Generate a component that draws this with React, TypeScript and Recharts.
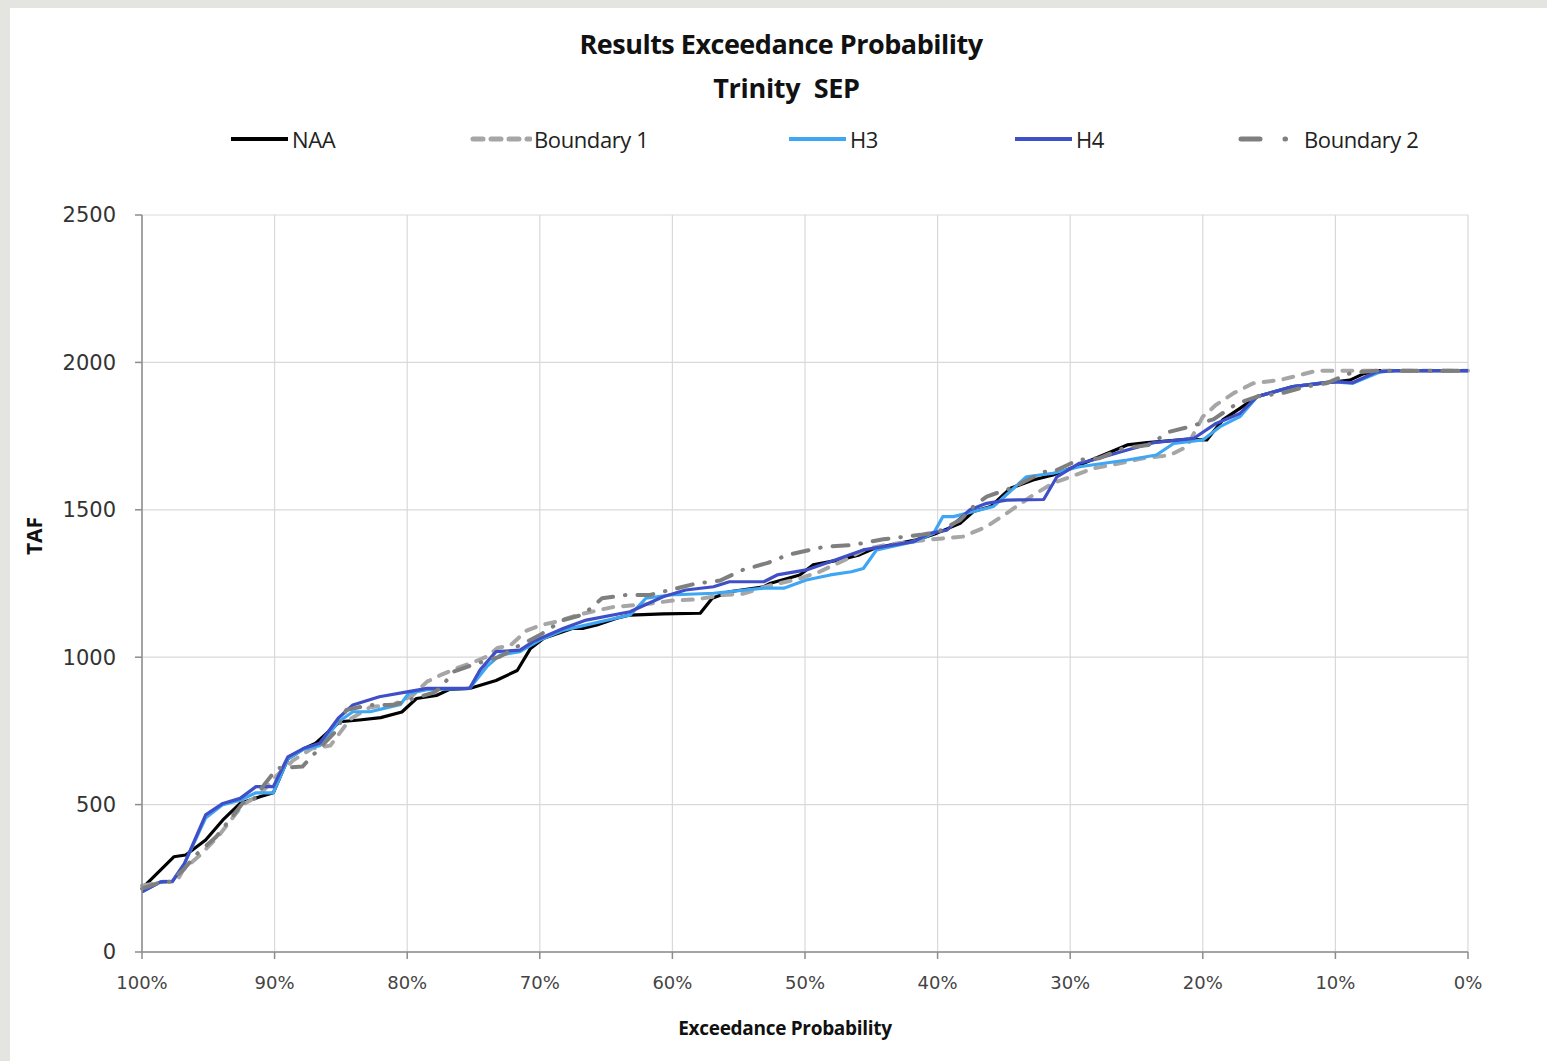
import React from "react";
import { LineChart, Line, XAxis, YAxis, CartesianGrid } from "recharts";

// [exceedance %, TAF]
const NAA: [number, number][] = [
  [100, 216], [97.6, 323], [96.7, 329], [95.2, 380], [93.9, 448], [92.6, 504], [91.1, 527], [90.1, 540],
  [89.0, 655], [87.8, 690], [86.9, 708], [85.1, 781], [83.6, 787], [82.0, 795], [80.4, 814], [79.3, 860],
  [77.8, 870], [76.8, 891], [75.3, 894], [73.3, 921], [71.7, 955], [70.7, 1030], [69.7, 1064], [67.5, 1098],
  [66.7, 1098], [65.7, 1109], [64.2, 1132], [63.2, 1143], [60.7, 1147], [57.9, 1149], [57.0, 1200],
  [55.7, 1222], [53.1, 1239], [52.6, 1251], [50.4, 1279], [49.4, 1313], [47.4, 1330], [45.9, 1347],
  [44.8, 1369], [41.6, 1398], [40.1, 1420], [38.3, 1454], [37.3, 1494], [36.0, 1511], [34.5, 1573],
  [32.8, 1601], [31.3, 1618], [29.3, 1652], [25.7, 1720], [24.2, 1728], [21.2, 1739], [19.7, 1737],
  [18.5, 1805], [17.2, 1844], [15.9, 1884], [13.2, 1918], [9.9, 1935], [8.9, 1940], [7.9, 1961],
  [6.9, 1972], [0, 1972],
];

const BOUNDARY1: [number, number][] = [
  [100, 225], [98.4, 238], [97.4, 238], [96.9, 278], [95.6, 330], [94.2, 395], [92.4, 500], [91.2, 530],
  [89.8, 600], [88.6, 650], [87.2, 690], [85.8, 700], [84.3, 790], [82.8, 830], [81.0, 840], [79.6, 870],
  [78.5, 917], [77.5, 939], [76.3, 962], [74.9, 985], [74.0, 1002], [73.2, 1031], [72.2, 1041],
  [71.0, 1090], [69.9, 1109], [68.8, 1120], [67.0, 1145], [64.5, 1170], [62.0, 1180], [60.0, 1192],
  [58.2, 1196], [56.2, 1211], [54.7, 1215], [52.5, 1245], [50.5, 1265], [48.9, 1290], [47.0, 1330],
  [45.5, 1365], [44.0, 1380], [42.0, 1392], [40.8, 1398], [39.6, 1403], [38.1, 1409], [36.3, 1443],
  [34.8, 1488], [32.8, 1550], [31.3, 1590], [29.8, 1615], [28.3, 1640], [26.0, 1660], [24.5, 1675],
  [22.5, 1685], [21.2, 1714], [20.0, 1816], [19.0, 1856], [17.7, 1895], [16.2, 1929], [14.2, 1940],
  [12.7, 1957], [11.4, 1972], [0, 1972],
];

const H3: [number, number][] = [
  [100, 204], [98.6, 238], [97.7, 240], [96.8, 300], [95.2, 455], [93.9, 500], [92.6, 515], [91.4, 540],
  [90.1, 540], [89.0, 655], [87.8, 688], [86.6, 700], [85.2, 780], [84.1, 815], [82.8, 815], [80.5, 840],
  [79.9, 877], [78.5, 890], [75.3, 894], [74.0, 968], [73.0, 1007], [71.5, 1019], [70.0, 1058],
  [68.2, 1092], [63.2, 1143], [62.0, 1200], [60.2, 1211], [56.9, 1217], [53.1, 1234], [51.6, 1234],
  [49.9, 1262], [48.1, 1279], [46.5, 1290], [45.6, 1301], [44.6, 1364], [41.8, 1392], [40.3, 1420],
  [39.6, 1477], [38.8, 1477], [35.8, 1511], [33.3, 1612], [31.3, 1624], [29.3, 1646], [25.7, 1669],
  [23.5, 1686], [22.2, 1725], [20.0, 1737], [18.7, 1782], [17.2, 1816], [15.9, 1884], [13.2, 1918],
  [10.2, 1935], [8.7, 1929], [6.6, 1968], [5.5, 1972], [0, 1972],
];

const H4: [number, number][] = [
  [100, 204], [98.6, 238], [97.7, 240], [96.8, 300], [95.2, 465], [93.9, 504], [92.6, 521], [91.4, 561],
  [90.1, 561], [89.0, 662], [87.8, 691], [86.6, 708], [85.2, 793], [84.1, 838], [82.1, 866], [79.9, 883],
  [78.5, 894], [75.3, 894], [74.5, 957], [73.3, 1019], [71.5, 1024], [70.5, 1053], [68.2, 1098],
  [66.5, 1126], [63.2, 1154], [60.7, 1205], [59.0, 1228], [56.9, 1239], [55.7, 1256], [53.1, 1256],
  [52.1, 1279], [49.9, 1296], [48.1, 1324], [45.6, 1364], [41.8, 1392], [40.6, 1420], [39.3, 1431],
  [37.6, 1499], [36.3, 1522], [34.8, 1533], [32.0, 1535], [31.0, 1612], [29.3, 1658], [28.3, 1669],
  [25.7, 1703], [23.7, 1728], [20.7, 1742], [19.0, 1793], [17.2, 1827], [15.9, 1884], [13.2, 1918],
  [10.2, 1935], [8.7, 1931], [6.9, 1968], [5.5, 1972], [0, 1972],
];

const BOUNDARY2: [number, number][] = [
  [100, 215], [98.5, 238], [97.9, 238], [96.9, 278], [95.8, 335], [94.4, 391], [93.4, 448], [92.4, 505],
  [91.6, 515], [90.9, 561], [89.8, 624], [87.9, 629], [86.6, 692], [85.3, 753], [84.6, 821], [82.8, 838],
  [81.0, 838], [79.5, 860], [78.0, 880], [77.5, 895], [76.5, 951], [75.0, 975], [73.0, 1002],
  [71.7, 1036], [70.0, 1075], [68.3, 1125], [66.7, 1145], [65.3, 1200], [63.5, 1211], [61.7, 1211],
  [58.2, 1250], [56.4, 1260], [54.7, 1296], [52.8, 1320], [51.3, 1347], [49.4, 1366], [48.5, 1375],
  [46.5, 1380], [44.1, 1400], [41.3, 1415], [40.0, 1425], [38.3, 1465], [37.3, 1511], [36.3, 1545],
  [34.3, 1576], [32.0, 1629], [31.3, 1629], [29.4, 1669], [27.8, 1675], [26.0, 1709], [24.1, 1720],
  [22.5, 1765], [21.0, 1782], [19.2, 1807], [17.4, 1861], [15.9, 1884], [14.1, 1895], [12.2, 1918],
  [10.7, 1929], [8.9, 1963], [7.0, 1972], [0, 1972],
];

const xTicks = [0, 10, 20, 30, 40, 50, 60, 70, 80, 90, 100];
const yTicks = [0, 500, 1000, 1500, 2000, 2500];

const toRows = (pts: [number, number][]) => pts.map(([p, v]) => ({ p, v }));

const series = [
  { name: "NAA", data: NAA, color: "#000000", width: 3.2, dash: undefined as string | undefined, legendX: 228 },
  { name: "Boundary 1", data: BOUNDARY1, color: "#a6a6a6", width: 4, dash: "10 10", legendX: 470 },
  { name: "H3", data: H3, color: "#3ea6f2", width: 3.2, dash: undefined, legendX: 786 },
  { name: "H4", data: H4, color: "#3f4fc8", width: 3.2, dash: undefined, legendX: 1012 },
  { name: "Boundary 2", data: BOUNDARY2, color: "#7f7f7f", width: 4, dash: "16 12 0.5 12", legendX: 1238 },
];

const font = "'Open Sans', 'Noto Sans', sans-serif";

const App: React.FC = () => {
  return (
    <div style={{ position: "absolute", left: 0, top: 0, width: 1547, height: 1061, background: "#e4e4e1" }}>
      <div style={{ position: "absolute", left: 10, top: 8, width: 1537, height: 1053, background: "#fff" }} />

      <div style={{ position: "absolute", left: 0, width: 1562, top: 26, textAlign: "center", fontFamily: font, fontWeight: 700, fontSize: 27, lineHeight: "36px", color: "#111", letterSpacing: -0.5 }}>
        Results Exceedance Probability
      </div>
      <div style={{ position: "absolute", left: 0, width: 1573, top: 70, textAlign: "center", fontFamily: font, fontWeight: 700, fontSize: 27, lineHeight: "36px", color: "#111", whiteSpace: "pre", letterSpacing: -0.3 }}>
        {"Trinity  SEP"}
      </div>

      {series.map((s) => (
        <div key={s.name} style={{ position: "absolute", left: s.legendX, top: 124, height: 30, display: "flex", alignItems: "center", fontFamily: font, fontSize: 22, color: "#222" }}>
          <svg width={62} height={10} style={{ marginRight: s.name === "Boundary 2" ? 4 : 2 }}>
            <line x1={3} y1={5} x2={60} y2={5} stroke={s.color} strokeWidth={s.dash ? 5 : 4}
              strokeDasharray={s.dash ? (s.name === "Boundary 2" ? "19 25 0.5 40" : "10 8") : undefined}
              strokeLinecap={s.dash ? "round" : "butt"} />
          </svg>
          <span style={{ letterSpacing: -0.4 }}>{s.name}</span>
        </div>
      ))}

      <div style={{ position: "absolute", left: 12, top: 536, transform: "translate(0, -50%) rotate(-90deg)", transformOrigin: "center", fontFamily: font, fontWeight: 700, fontSize: 21, color: "#111", width: 44, textAlign: "center" }}>
        TAF
      </div>

      <div style={{ position: "absolute", left: 0, top: 0 }}>
        <LineChart width={1547} height={1061} margin={{ top: 215, right: 79, bottom: 49, left: 0 }}>
          <CartesianGrid stroke="#d9d9d9" strokeWidth={1.2} />
          <XAxis
            dataKey="p"
            type="number"
            domain={[0, 100]}
            reversed
            ticks={xTicks}
            interval={0}
            allowDuplicatedCategory={false}
            height={60}
            tickFormatter={(v) => `${v}%`}
            stroke="#8c8c8c"
            strokeWidth={1.5}
            tickSize={7}
            tickMargin={17}
            tick={{ fontFamily: "'DejaVu Sans', sans-serif", fontSize: 18, fill: "#444" }}
            label={{ value: "Exceedance Probability", position: "insideBottom", offset: -23, dx: -20, style: { fontFamily: font, fontWeight: 700, fontSize: 19, fill: "#111", letterSpacing: -0.3 } }}
          />
          <YAxis
            type="number"
            domain={[0, 2500]}
            ticks={yTicks}
            interval={0}
            width={142}
            stroke="#8c8c8c"
            strokeWidth={1.5}
            tickSize={7}
            tickMargin={19}
            tick={{ fontFamily: "'DejaVu Sans', sans-serif", fontSize: 21, fill: "#333" }}
          />
          {series.map((s) => (
            <Line
              key={s.name}
              name={s.name}
              data={toRows(s.data)}
              dataKey="v"
              type="linear"
              stroke={s.color}
              strokeWidth={s.width}
              strokeDasharray={s.dash}
              strokeLinecap={s.dash ? "round" : "butt"}
              strokeLinejoin="round"
              dot={false}
              activeDot={false}
              isAnimationActive={false}
            />
          ))}
        </LineChart>
      </div>
    </div>
  );
};

export default App;
